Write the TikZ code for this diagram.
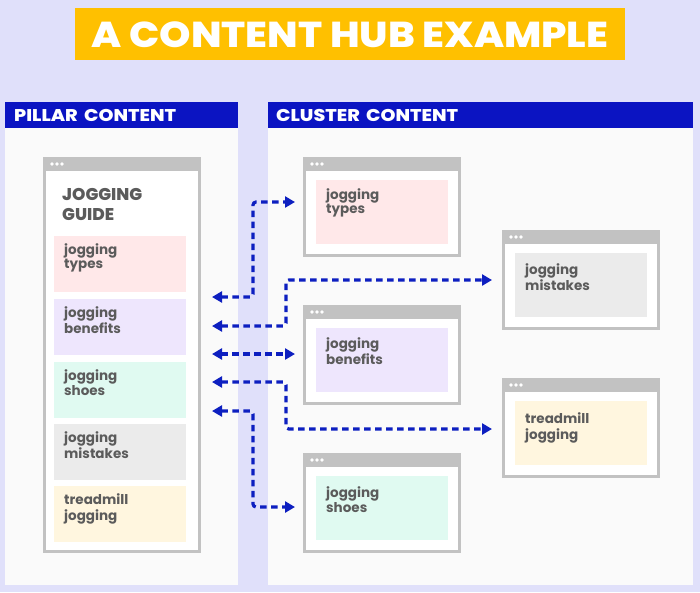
\documentclass[tikz,border=0pt]{standalone}
\usepackage{fontspec}
\setmainfont{Poppins}
\newfontfamily\heavyfont{Poppins ExtraBold}
\usetikzlibrary{arrows.meta}
\definecolor{bg}{HTML}{E0E0FA}
\definecolor{titleyellow}{HTML}{FFC000}
\definecolor{headblue}{HTML}{0B14C2}
\definecolor{panelwhite}{HTML}{FAFAFA}
\definecolor{wingray}{HTML}{C2C2C2}
\definecolor{txtgray}{HTML}{5B5B5B}
\definecolor{linkblue}{HTML}{0D1FC0}
\definecolor{cpink}{HTML}{FFE8E9}
\definecolor{clav}{HTML}{EEE6FD}
\definecolor{cmint}{HTML}{E0FAF1}
\definecolor{cgray}{HTML}{EBEBEB}
\definecolor{ccream}{HTML}{FFF6DF}
\tikzset{
  winframe/.style={draw=wingray, line width=3pt, fill=white, inner sep=0pt},
  secbox/.style={anchor=north west, inner sep=0pt, minimum width=132pt},
  lbl/.style={anchor=north west, inner sep=0pt, align=left, text=txtgray,
    font=\fontsize{13.5}{14}\selectfont\bfseries},
  header/.style={anchor=north west, fill=headblue, text=white, minimum height=26pt,
    inner xsep=9pt, inner ysep=0pt, align=left, font=\fontsize{17}{20}\heavyfont},
  panel/.style={anchor=north west, fill=panelwhite, inner sep=0pt},
  link/.style={draw=linkblue, line width=3.2pt, dash pattern=on 6.5pt off 4.5pt,
    rounded corners=3pt, {Triangle[length=10pt,width=11pt]}-{Triangle[length=10pt,width=11pt]}}
}
\newcommand\webwin[5]{%
  \node[winframe, minimum width={#4-#2-3}, minimum height={#5-#3-3}] (#1) at ({(#2+#4)/2},{(#3+#5)/2}) {};
  \fill[wingray] (#2,#3) rectangle (#4,#3+14);
  \foreach \k in {0,1,2} \fill[white] (#2+9+5*\k,#3+7) circle (1.9pt);
}
\begin{document}
\begin{tikzpicture}[x=1pt,y=-1pt]
\path[use as bounding box, fill=bg] (0,0) rectangle (700,592);
% title
\node[fill=titleyellow, minimum width=550pt, minimum height=52pt, inner sep=0pt] (titlebox) at (350,34) {};
\node[text=white, inner sep=0pt, font=\fontsize{36}{40}\heavyfont] (title) at (350,34.5) {\scalebox{1.11}[1]{A CONTENT HUB EXAMPLE}};
% panels
\node[panel, minimum width=233pt, minimum height=483pt] (leftpanel) at (5,102) {};
\node[panel, minimum width=425pt, minimum height=483pt] (rightpanel) at (268,102) {};
\node[header, text width=215pt] (lefthead) at (5,102) {\scalebox{1.12}[1]{PILLAR CONTENT}};
\node[header, inner xsep=8pt, text width=409pt] (righthead) at (268,102) {\scalebox{1.12}[1]{CLUSTER CONTENT}};
% pillar window
\webwin{pillar}{43}{157}{201}{553}
\node[anchor=north west, inner sep=0pt, align=left, text=txtgray,
  font=\fontsize{17}{20}\heavyfont] (guide) at (62,186) {\strut JOGGING\\GUIDE};
\node[secbox, fill=cpink, minimum height=56pt] (pTypes) at (54,236) {};
\node[lbl] (pTypesL) at (64,243.5) {\strut jogging\\types};
\node[secbox, fill=clav, minimum height=56pt] (pBen) at (54,299) {};
\node[lbl] (pBenL) at (64,306.5) {\strut jogging\\benefits};
\node[secbox, fill=cmint, minimum height=56pt] (pShoes) at (54,362) {};
\node[lbl] (pShoesL) at (64,369.5) {\strut jogging\\shoes};
\node[secbox, fill=cgray, minimum height=56pt] (pMis) at (54,424) {};
\node[lbl] (pMisL) at (64,431.5) {\strut jogging\\mistakes};
\node[secbox, fill=ccream, minimum height=56pt] (pTread) at (54,486) {};
\node[lbl] (pTreadL) at (64,493.5) {\strut treadmill\\jogging};
% cluster windows
\webwin{wTypes}{303}{157}{461}{257}
\node[secbox, fill=cpink, minimum height=64pt] (cTypes) at (316,180) {};
\node[lbl] (cTypesL) at (326,188.5) {\strut jogging\\types};
\webwin{wMis}{502}{230}{660}{330}
\node[secbox, fill=cgray, minimum height=64pt] (cMis) at (515,253) {};
\node[lbl] (cMisL) at (525,263) {\strut jogging\\mistakes};
\webwin{wBen}{303}{305}{461}{405}
\node[secbox, fill=clav, minimum height=64pt] (cBen) at (316,328) {};
\node[lbl] (cBenL) at (326,337.5) {\strut jogging\\benefits};
\webwin{wTread}{502}{378}{660}{478}
\node[secbox, fill=ccream, minimum height=64pt] (cTread) at (515,401) {};
\node[lbl] (cTreadL) at (525,412) {\strut treadmill\\jogging};
\webwin{wShoes}{303}{453}{461}{553}
\node[secbox, fill=cmint, minimum height=64pt] (cShoes) at (316,476) {};
\node[lbl] (cShoesL) at (326,486) {\strut jogging\\shoes};
% connector ends
\coordinate (railA) at (253,0);
\coordinate (railB) at (286,0);
\coordinate (hubA) at (212,297);
\coordinate (hubB) at (212,326);
\coordinate (hubC) at (212,354);
\coordinate (hubD) at (212,382);
\coordinate (hubE) at (212,411);
\coordinate (inTypes) at (295,202);
\coordinate (inMis) at (492,280);
\coordinate (inBen) at (295,354);
\coordinate (inTread) at (492,429);
\coordinate (inShoes) at (295,507);
% connectors
\draw[link] (hubA) -- (hubA -| railA) |- (inTypes);
\draw[link] (hubB) -- (hubB -| railB) |- (inMis);
\draw[link] (hubC) -- (inBen);
\draw[link] (hubD) -- (hubD -| railB) |- (inTread);
\draw[link] (hubE) -- (hubE -| railA) |- (inShoes);
\end{tikzpicture}
\end{document}
